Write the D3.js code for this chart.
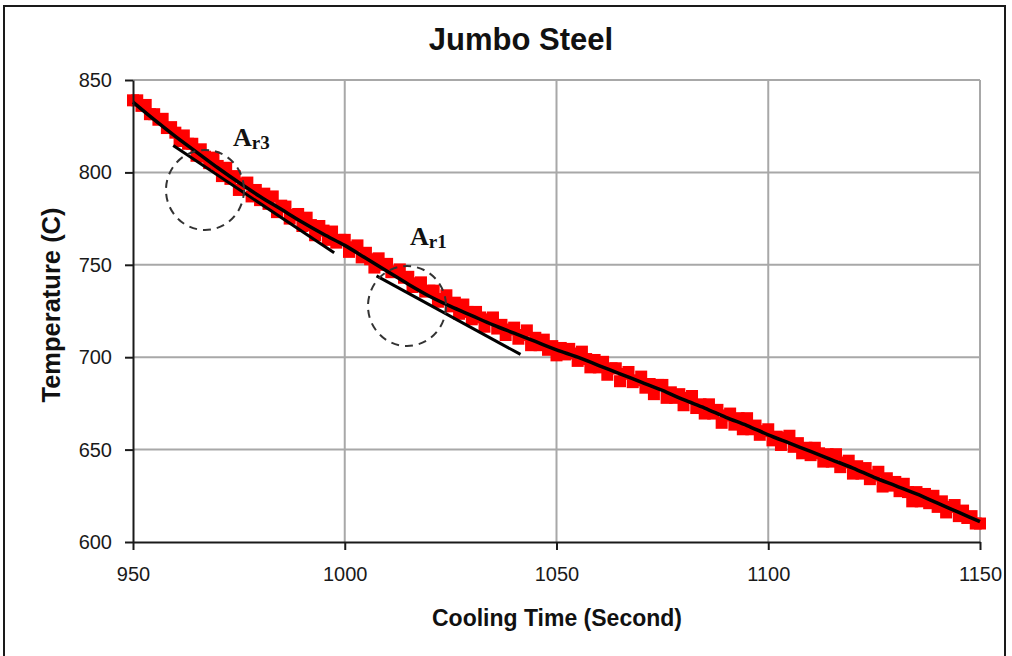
<!DOCTYPE html>
<html>
<head>
<meta charset="utf-8">
<script src="https://cdn.jsdelivr.net/npm/d3@7"></script>
<style>
  body { margin: 0; background: #fff; }
  svg { display: block; }
  .tick text { font-family: "Liberation Sans", Arial, sans-serif; font-size: 20px; fill: #1a1a1a; }
</style>
</head>
<body>
<svg id="chart" width="1012" height="656"></svg>
<script>
// Axis ticks
const timeTicks = [950, 1000, 1050, 1100, 1150];
const tempTicks = [600, 650, 700, 750, 800, 850];

// Measured cooling record, one reading per second (s, deg C)
const sampleTimes = [
  950, 951, 952, 953, 954, 955, 956, 957, 958, 959,
  960, 961, 962, 963, 964, 965, 966, 967, 968, 969,
  970, 971, 972, 973, 974, 975, 976, 977, 978, 979,
  980, 981, 982, 983, 984, 985, 986, 987, 988, 989,
  990, 991, 992, 993, 994, 995, 996, 997, 998, 999,
  1000, 1001, 1002, 1003, 1004, 1005, 1006, 1007, 1008, 1009,
  1010, 1011, 1012, 1013, 1014, 1015, 1016, 1017, 1018, 1019,
  1020, 1021, 1022, 1023, 1024, 1025, 1026, 1027, 1028, 1029,
  1030, 1031, 1032, 1033, 1034, 1035, 1036, 1037, 1038, 1039,
  1040, 1041, 1042, 1043, 1044, 1045, 1046, 1047, 1048, 1049,
  1050, 1051, 1052, 1053, 1054, 1055, 1056, 1057, 1058, 1059,
  1060, 1061, 1062, 1063, 1064, 1065, 1066, 1067, 1068, 1069,
  1070, 1071, 1072, 1073, 1074, 1075, 1076, 1077, 1078, 1079,
  1080, 1081, 1082, 1083, 1084, 1085, 1086, 1087, 1088, 1089,
  1090, 1091, 1092, 1093, 1094, 1095, 1096, 1097, 1098, 1099,
  1100, 1101, 1102, 1103, 1104, 1105, 1106, 1107, 1108, 1109,
  1110, 1111, 1112, 1113, 1114, 1115, 1116, 1117, 1118, 1119,
  1120, 1121, 1122, 1123, 1124, 1125, 1126, 1127, 1128, 1129,
  1130, 1131, 1132, 1133, 1134, 1135, 1136, 1137, 1138, 1139,
  1140, 1141, 1142, 1143, 1144, 1145, 1146, 1147, 1148, 1149,
  1150
];
const sampleTemps = [
  839, 839, 836, 836.5, 831.5, 831.5, 828.5, 829, 824, 824.5,
  821.5, 817, 820, 815.5, 815.5, 809, 812.5, 808.5, 805, 808,
  803.5, 798, 802.5, 796.5, 798, 790.5, 794, 794.5, 787, 790.5,
  785, 788.5, 783, 787, 778.5, 782, 781.5, 775, 777, 777.5,
  771, 775.5, 771.5, 766, 771, 768.5, 763.5, 768, 762, 763.5,
  763.5, 757, 759.5, 760.5, 754, 756.5, 753, 748.5, 753.5, 750,
  750.5, 746, 746.5, 747.5, 743, 743.5, 738, 740, 740.5, 735.5,
  736, 736, 730, 731.5, 733.5, 727.5, 729.5, 723.5, 728.5, 724.5,
  720.5, 724.5, 721.5, 716.5, 720.5, 721.5, 715.5, 717.5, 712, 715,
  716, 710, 712, 714.5, 706.5, 710.5, 706.5, 709.5, 704, 706,
  701, 705, 701.5, 704.5, 702, 698, 703, 699, 694.5, 698.5,
  694.5, 697.5, 690.5, 694, 694, 687, 691, 692, 686.5, 687.5,
  689.5, 683.5, 685.5, 680, 685, 685, 678, 681, 678, 680,
  674, 678, 679, 672.5, 674.5, 669.5, 674.5, 669.5, 671.5, 664.5,
  668.5, 669.5, 663.5, 667, 661, 667, 661, 663, 658, 660,
  661, 655, 657, 652.5, 656.5, 657.5, 651.5, 653.5, 648, 651,
  647, 651, 648, 643.5, 647.5, 643.5, 647.5, 640.5, 643, 644,
  637, 641, 637, 640, 634, 636, 638, 630, 634.5, 630.5,
  632.5, 627.5, 631.5, 627, 622, 627, 622, 626, 621, 625,
  619, 622, 616, 619, 620, 614, 617, 613, 614, 610,
  610
];

// Smoothed cooling curve
const curveTimes = [
  950, 955, 960, 965, 970, 975, 980, 985, 990, 995,
  1000, 1005, 1010, 1015, 1020, 1025, 1030, 1035, 1040, 1045,
  1050, 1055, 1060, 1065, 1070, 1075, 1080, 1085, 1090, 1095,
  1100, 1105, 1110, 1115, 1120, 1125, 1130, 1135, 1140, 1145,
  1150
];
const curveTemps = [
  838, 828.5, 819.5, 811, 802.5, 794.5, 787, 780, 773, 766.5,
  760.5, 753.5, 746.5, 739.5, 733, 727.5, 722.5, 717.5, 713, 708.5,
  704, 700, 695.5, 691, 686.5, 682, 677, 672.5, 667.5, 663,
  658, 653.5, 649, 644.5, 640, 635, 630.5, 626, 621, 616,
  611
];

// Tangent lines at the two transformation points
const ar3Tangent = [[959.5, 814.5], [997.5, 756.5]];
const ar1Tangent = [[1007.5, 744], [1041.5, 701.5]];

// Transformation markers: centre of the circled region and label anchor
const markerNames = ["r3", "r1"];
const markerCentres = [[967, 790.5], [1014.7, 727.7]];
const markerLabelAt = [[973.6, 814.3], [1015.4, 760.7]];

const svg = d3.select("#chart");
const x = d3.scaleLinear().domain([950, 1150]).range([133, 980]);
const y = d3.scaleLinear().domain([600, 850]).range([542, 80]);

// Outer frame
svg.append("rect")
  .attr("x", 4).attr("y", 6).attr("width", 1001).attr("height", 662)
  .attr("fill", "#fff").attr("stroke", "#1a1a1a").attr("stroke-width", 2);

// Grid
const grid = svg.append("g").attr("stroke", "#a8a8a8").attr("stroke-width", 2);
grid.selectAll("line.v").data(timeTicks.slice(1)).join("line")
  .attr("class", "v")
  .attr("x1", d => x(d)).attr("x2", d => x(d))
  .attr("y1", y(600)).attr("y2", y(850));
grid.selectAll("line.h").data(tempTicks.slice(1)).join("line")
  .attr("class", "h")
  .attr("x1", x(950)).attr("x2", x(1150))
  .attr("y1", d => y(d)).attr("y2", d => y(d));

// Measured points (square markers)
const markerSize = 12;
const pts = sampleTimes.map((t, i) => [t, sampleTemps[i]]);
svg.append("g").attr("fill", "#ff0000")
  .selectAll("rect").data(pts).join("rect")
  .attr("x", d => x(d[0]) - markerSize / 2).attr("y", d => y(d[1]) - markerSize / 2)
  .attr("width", markerSize).attr("height", markerSize);

// Smoothed curve
const line = d3.line().x(d => x(d[0])).y(d => y(d[1])).curve(d3.curveMonotoneX);
svg.append("path")
  .datum(curveTimes.map((t, i) => [t, curveTemps[i]]))
  .attr("d", line).attr("fill", "none")
  .attr("stroke", "#000").attr("stroke-width", 3.5);

// Tangents
const straight = d3.line().x(d => x(d[0])).y(d => y(d[1]));
svg.selectAll("path.tangent").data([ar3Tangent, ar1Tangent]).join("path")
  .attr("class", "tangent")
  .attr("d", straight).attr("fill", "none")
  .attr("stroke", "#000").attr("stroke-width", 3);

// Dashed circles around the transformation points
svg.selectAll("ellipse").data(markerCentres).join("ellipse")
  .attr("cx", d => x(d[0])).attr("cy", d => y(d[1]))
  .attr("rx", 39).attr("ry", 40)
  .attr("fill", "none").attr("stroke", "#333")
  .attr("stroke-width", 2).attr("stroke-dasharray", "8,6");

// A_r labels
const labels = svg.selectAll("text.ar").data(markerLabelAt).join("text")
  .attr("class", "ar")
  .attr("x", d => x(d[0])).attr("y", d => y(d[1]))
  .attr("font-family", "'Liberation Serif', 'Times New Roman', serif")
  .attr("font-weight", "bold")
  .attr("font-size", 26).attr("fill", "#111");
labels.append("tspan").text("A");
labels.append("tspan").attr("font-size", 19).attr("dy", 3)
  .text((d, i) => markerNames[i]);

// Axes
const xAxis = svg.append("g").attr("transform", `translate(0,${y(600)})`)
  .call(d3.axisBottom(x).tickValues(timeTicks).tickFormat(d3.format("d"))
    .tickSize(8).tickSizeOuter(0).tickPadding(17));
const yAxis = svg.append("g").attr("transform", `translate(${x(950)},0)`)
  .call(d3.axisLeft(y).tickValues(tempTicks).tickFormat(d3.format("d"))
    .tickSize(8).tickSizeOuter(0).tickPadding(13));
[xAxis, yAxis].forEach(g => {
  g.select(".domain").attr("stroke", "#1a1a1a").attr("stroke-width", 2);
  g.selectAll(".tick line").attr("stroke", "#1a1a1a").attr("stroke-width", 2);
});

// Titles
svg.append("text")
  .attr("x", 521).attr("y", 50).attr("text-anchor", "middle")
  .attr("font-family", "'Liberation Sans', Arial, sans-serif")
  .attr("font-weight", "bold").attr("font-size", 31).attr("fill", "#111")
  .text("Jumbo Steel");
svg.append("text")
  .attr("x", 557).attr("y", 626).attr("text-anchor", "middle")
  .attr("font-family", "'Liberation Sans', Arial, sans-serif")
  .attr("font-weight", "bold").attr("font-size", 23).attr("fill", "#111")
  .text("Cooling Time (Second)");
svg.append("text")
  .attr("transform", "translate(60,305) rotate(-90)")
  .attr("text-anchor", "middle")
  .attr("font-family", "'Liberation Sans', Arial, sans-serif")
  .attr("font-weight", "bold").attr("font-size", 25.5).attr("fill", "#111")
  .text("Temperature (C)");
</script>
</body>
</html>
